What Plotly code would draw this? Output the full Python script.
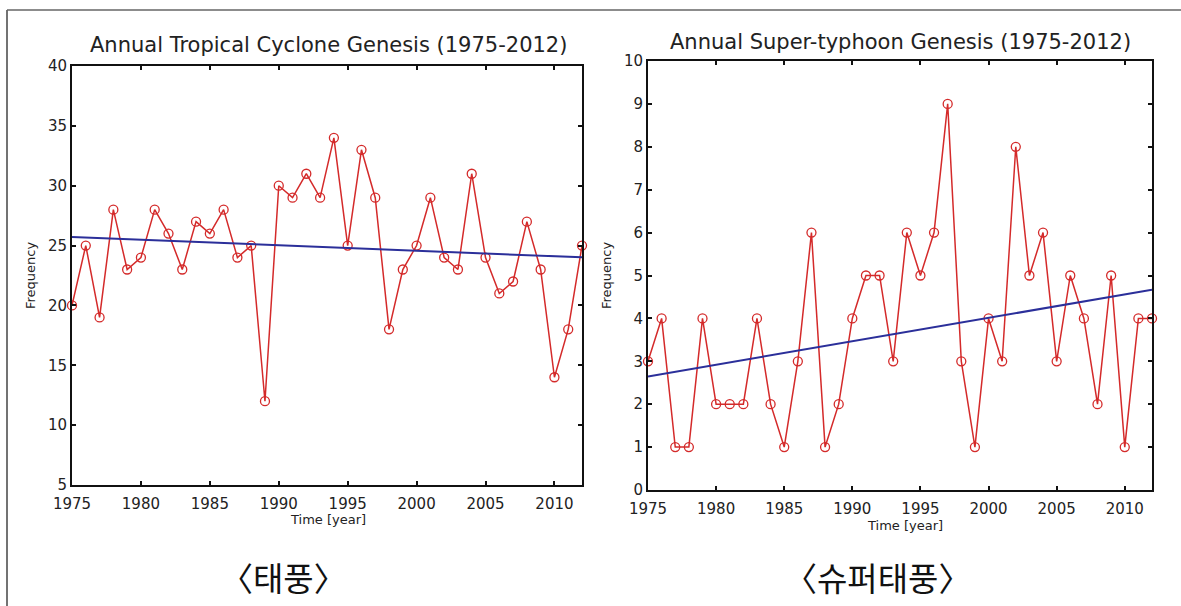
import numpy as np
import plotly.graph_objects as go

W, H = 1181, 606

years = list(range(1975, 2013))
tc_counts = [20, 25, 19, 28, 23, 24, 28, 26, 23, 27,
             26, 28, 24, 25, 12, 30, 29, 31, 29, 34,
             25, 33, 29, 18, 23, 25, 29, 24, 23, 31,
             24, 21, 22, 27, 23, 14, 18, 25]
sty_counts = [3, 4, 1, 1, 4, 2, 2, 2, 4, 2,
              1, 3, 6, 1, 2, 4, 5, 5, 3, 6,
              5, 6, 9, 3, 1, 4, 3, 8, 5, 6,
              3, 5, 4, 2, 5, 1, 4, 4]

x_ticks = [1975, 1980, 1985, 1990, 1995, 2000, 2005, 2010]
tc_yticks = [5, 10, 15, 20, 25, 30, 35, 40]
sty_yticks = list(range(0, 11))

titles = ["Annual Tropical Cyclone Genesis (1975-2012)",
          "Annual Super-typhoon Genesis (1975-2012)"]
captions = ["〈태풍〉", "〈슈퍼태풍〉"]

def px_x(p):
    return p / W

def px_y(p):
    return 1 - p / H

fig = go.Figure()

red = "#d42a2a"
blue = "#2b2f9a"

for i, (counts, xa, ya) in enumerate([(tc_counts, "x", "y"), (sty_counts, "x2", "y2")]):
    fig.add_trace(go.Scatter(
        x=years, y=counts, xaxis=xa, yaxis=ya, mode="lines+markers",
        line=dict(color=red, width=1.5),
        marker=dict(symbol="circle-open", size=9, color=red, line=dict(width=1.3)),
        showlegend=False, hoverinfo="x+y", cliponaxis=False))
    slope, icpt = np.polyfit(years, counts, 1)
    tx = [years[0], years[-1]]
    fig.add_trace(go.Scatter(
        x=tx, y=[slope * t + icpt for t in tx], xaxis=xa, yaxis=ya, mode="lines",
        line=dict(color=blue, width=2), showlegend=False, hoverinfo="skip"))

tick_font = dict(family="DejaVu Sans, sans-serif", size=15, color="#222")
common_x = dict(range=[1975, 2012], tickvals=x_ticks, ticks="inside", ticklen=4,
                tickwidth=2, tickcolor="#111", showline=True, linecolor="#111",
                linewidth=2, mirror="ticks", showgrid=False, zeroline=False,
                tickfont=tick_font, automargin=False, ticklabelstandoff=4)
common_y = dict(ticks="inside", ticklen=4, tickwidth=2, tickcolor="#111",
                showline=True, linecolor="#111", linewidth=2, mirror="ticks",
                showgrid=False, zeroline=False, tickfont=tick_font, automargin=False)

fig.update_layout(
    width=W, height=H, margin=dict(l=0, r=0, t=0, b=0, pad=0, autoexpand=False),
    paper_bgcolor="white", plot_bgcolor="white",
    xaxis=dict(domain=[px_x(72), px_x(582)], anchor="y", **common_x),
    yaxis=dict(domain=[px_y(485), px_y(66)], anchor="x", range=[5, 40],
               tickvals=tc_yticks, **common_y),
    xaxis2=dict(domain=[px_x(648), px_x(1152)], anchor="y2", **common_x),
    yaxis2=dict(domain=[px_y(490), px_y(61)], anchor="x2", range=[0, 10],
                tickvals=sty_yticks, **common_y),
)

title_font = dict(family="DejaVu Sans, sans-serif", size=21, color="#222")
lab_font = dict(family="DejaVu Sans, sans-serif", size=13, color="#222")
cap_font = dict(family="Noto Sans CJK KR", size=33, color="#111")

ann = [
    (328, 45, titles[0], title_font, 0),
    (900, 42, titles[1], title_font, 0),
    (30, 276, "Frequency", lab_font, -90),
    (606, 276, "Frequency", lab_font, -90),
    (328, 519, "Time [year]", lab_font, 0),
    (905, 525, "Time [year]", lab_font, 0),
    (283, 577, captions[0], cap_font, 0),
    (877, 577, captions[1], cap_font, 0),
]
for x, y, t, f, ang in ann:
    fig.add_annotation(x=px_x(x), y=px_y(y), xref="paper", yref="paper", text=t,
                       showarrow=False, font=f, textangle=ang,
                       xanchor="center", yanchor="middle")

# outer frame of the figure
fig.add_shape(type="line", xref="paper", yref="paper", x0=px_x(7), x1=px_x(7),
              y0=px_y(10), y1=0, line=dict(color="#444", width=1.5))
fig.add_shape(type="line", xref="paper", yref="paper", x0=px_x(7), x1=1,
              y0=px_y(10), y1=px_y(10), line=dict(color="#666", width=1.5))

fig.write_html("out.html")
